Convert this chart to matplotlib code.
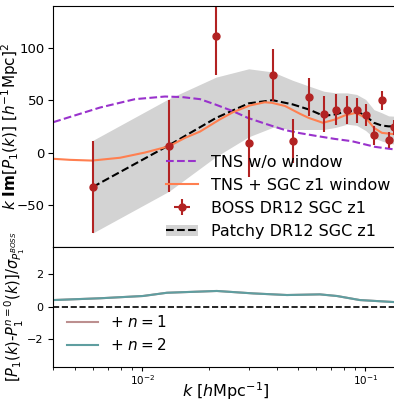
import numpy as np
import matplotlib.pyplot as plt
from matplotlib.patches import Patch
from matplotlib.lines import Line2D

# BOSS DR12 SGC z1 data points
k_data = [0.0060, 0.0132, 0.0214, 0.0300, 0.0384, 0.0472, 0.0560, 0.0650,
          0.0735, 0.0826, 0.0913, 0.1002, 0.1091, 0.1182, 0.1270, 0.1345]
boss = [-33, 6, 111, 9, 74, 11, 53, 37, 41, 40.5, 40.4, 35.6, 16.3, 50, 11.8, 24]
boss_err = [44, 44, 37, 32, 25, 21, 18, 17, 15, 13.6, 12, 10.5, 9, 9, 7.5, 7]

# Patchy mocks mean and band
patchy = [-33, 7, 33, 47, 50, 46, 41, 35, 36.5, 39.5, 39.5, 35, 28.4, 25.8, 25, 25]
patchy_hi = [11.5, 51.5, 72, 80, 77, 69, 63.4, 58.6, 57, 57, 55.5, 50.7, 41, 38, 35, 34.7]
patchy_lo = [-77, -37, -4, 15, 24, 22, 22, 22, 24, 27, 26, 21, 14, 11, 9, 8]

# TNS without window
k_nowin = [0.0040, 0.00648, 0.00929, 0.01265, 0.01507, 0.01815, 0.0212, 0.0255,
           0.0298, 0.0362, 0.0436, 0.0509, 0.0612, 0.0729, 0.0870, 0.1104, 0.1397]
tns_nowin = [29, 43, 51, 53.5, 53, 51, 46, 39.5, 33, 27, 21.5, 18.5, 15.6, 13,
             10.8, 5.4, 2.5]

# TNS + SGC z1 window
k_win = [0.0040, 0.00475, 0.00596, 0.00796, 0.0103, 0.0132, 0.01556, 0.01815,
         0.0223, 0.0255, 0.0304, 0.0354, 0.0381, 0.0436, 0.0509, 0.0558, 0.0645,
         0.0729, 0.0809, 0.0906, 0.1004, 0.1091, 0.1185, 0.1342, 0.1397]
tns_win = [-6, -7, -7.7, -5, 0, 6, 14, 20, 31.7, 38.5, 45, 48, 47.5, 44.5, 37,
           33, 28.4, 31.5, 35.5, 37.9, 33, 23.6, 18.8, 17.5, 17.5]

# bottom panel
k_res = [0.0040, 0.00648, 0.01008, 0.01291, 0.0216, 0.0314, 0.0445, 0.0625,
         0.0745, 0.0944, 0.1328, 0.1397]
res_n1 = [0.41, 0.52, 0.66, 0.86, 0.97, 0.82, 0.72, 0.76, 0.66, 0.41, 0.29, 0.28]
res_n2 = [0.41, 0.52, 0.66, 0.86, 0.97, 0.82, 0.72, 0.76, 0.66, 0.41, 0.29, 0.28]

fig = plt.figure(figsize=(3.94, 4.01), dpi=100)
ax1 = fig.add_axes([0.1353, 0.3848, 0.8751, 0.6002])
ax2 = fig.add_axes([0.1353, 0.0855, 0.8751, 0.2993], sharex=ax1)

ax1.fill_between(k_data, patchy_lo, patchy_hi, color='lightgray', lw=0)
ax1.plot(k_data, patchy, 'k--', lw=1.5)
ax1.plot(k_nowin, tns_nowin, '--', color='darkorchid', lw=1.5)
ax1.plot(k_win, tns_win, '-', color='coral', lw=1.5)
eb = ax1.errorbar(k_data, boss, yerr=boss_err, xerr=0, fmt='o', color='firebrick',
                  ms=5, elinewidth=1.5)

ax1.set_xscale('log')
ax1.set_xlim(0.004, 0.14)
ax1.set_ylim(-90, 140)
ax1.set_yticks([-50, 0, 50, 100])
ax1.tick_params(axis='x', which='both', bottom=False, labelbottom=False)
ax1.tick_params(axis='y', labelsize=9.5, pad=2.5)
ax1.set_ylabel(r'$k$ $\bf{Im}$$[P_1(k)]$ $[h^{-1}{\rm Mpc}]^2$', fontsize=11)
ax1.yaxis.set_label_coords(-0.095, 0.5)

h_nowin = Line2D([], [], ls='--', color='darkorchid', lw=1.5)
h_win = Line2D([], [], ls='-', color='coral', lw=1.5)
h_patchy = (Patch(color='lightgray', lw=0), Line2D([], [], ls='--', color='k', lw=1.5))
ax1.legend([h_nowin, h_win, eb, h_patchy],
           ['TNS w/o window', 'TNS + SGC z1 window', 'BOSS DR12 SGC z1',
            'Patchy DR12 SGC z1'],
           loc='lower right', frameon=False, fontsize=11.5,
           borderaxespad=0.1, labelspacing=0.5)

ax2.plot(k_res, res_n1, color='rosybrown', lw=1.5, label=r'+ $n=1$')
ax2.plot(k_res, res_n2, color='cadetblue', lw=1.5, label=r'+ $n=2$')
ax2.axhline(0, color='k', ls='--', lw=1.2)
ax2.set_ylim(-3.7, 3.7)
ax2.set_yticks([-2, 0, 2])
ax2.tick_params(labelsize=8)
ax2.tick_params(axis='x', which='major', length=3, pad=2, labelsize=7.5)
ax2.tick_params(axis='x', which='minor', length=2)
ax2.set_xlabel(r'$k$ $[h{\rm Mpc}^{-1}]$', fontsize=11.5)
ax2.xaxis.set_label_coords(0.5, -0.115)
ax2.set_ylabel(r'$[P_1(k)$-$P_1^{n=0}(k)]/\sigma_{P_1^{BOSS}}$', fontsize=10.5)
ax2.yaxis.set_label_coords(-0.075, 0.5)
ax2.legend(loc='lower left', frameon=False, fontsize=11, labelspacing=0.45)

fig.savefig('out.png', dpi=100)
